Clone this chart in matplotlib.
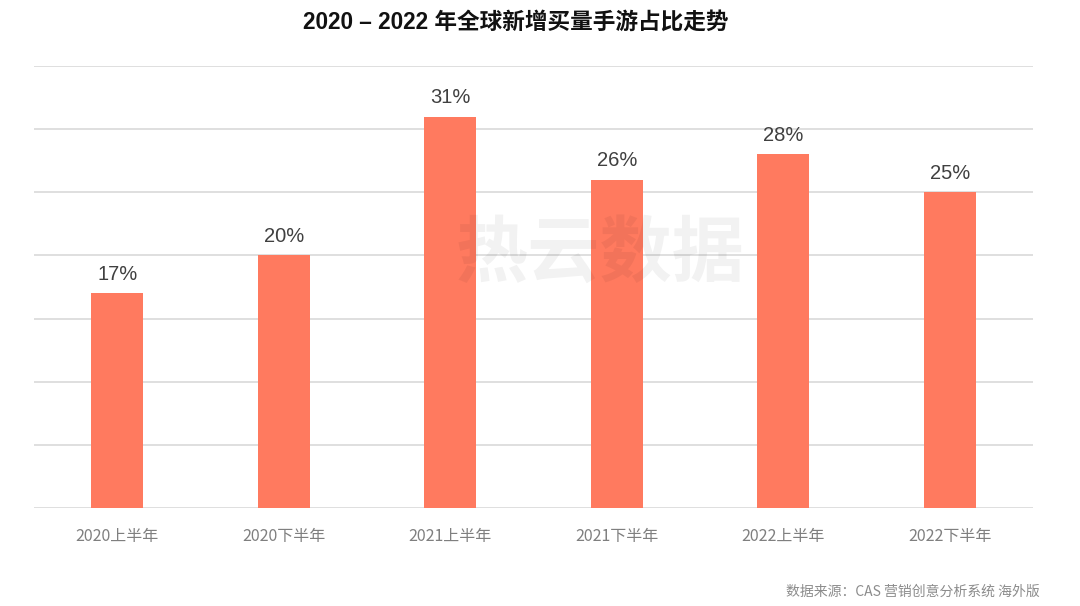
import matplotlib.pyplot as plt
import numpy as np

plt.rcParams['font.family'] = ['Liberation Sans', 'Noto Sans CJK SC', 'DejaVu Sans']

categories = ['2020上半年', '2020下半年', '2021上半年', '2021下半年', '2022上半年', '2022下半年']
share = [17, 20, 31, 26, 28, 25]

title = '2020 – 2022 年全球新增买量手游占比走势'
source = '数据来源：CAS 营销创意分析系统 海外版'

fig = plt.figure(figsize=(10.8, 6.06), dpi=100)
ax = fig.add_axes([0.0315, 0.1617, 0.925, 0.7294])

x = np.arange(len(categories))
ax.bar(x, share, width=0.31, color='#FF7A5F', zorder=3)

for xi, v in zip(x, share):
    ax.annotate('%d%%' % v, (xi, v), xytext=(0, 7), textcoords='offset points',
                ha='center', va='bottom', fontsize=14.5, color='#404040', zorder=4)

ax.set_xlim(-0.5, len(categories) - 0.5)
ax.set_ylim(0, 35)
ax.set_yticks(np.arange(0, 36, 5))
ax.yaxis.grid(True, color='#D9D9D9', linewidth=1.2, zorder=0)
ax.tick_params(axis='y', left=False, labelleft=False)
ax.tick_params(axis='x', bottom=False, pad=11)
ax.set_xticks(x)
ax.set_xticklabels(categories, fontsize=11.5, color='#7F7F7F',
                   fontfamily=['Noto Sans CJK SC', 'DejaVu Sans'])
for s in ax.spines.values():
    s.set_visible(False)

# watermark
fig.text(0.556, 0.58, '热云数据', fontsize=52, fontweight='bold', color='#000000', alpha=0.05,
         ha='center', va='center', fontfamily=['Noto Sans CJK SC'], zorder=10)

fig.text(0.478, 0.963, title, ha='center', va='center', fontsize=16.3, fontweight='bold',
         color='#111111')
fig.text(0.963, 0.024, source, ha='right', va='center', fontsize=10, color='#8C8C8C',
         fontfamily=['Noto Sans CJK SC', 'DejaVu Sans'])

fig.savefig('out.png', dpi=100)
